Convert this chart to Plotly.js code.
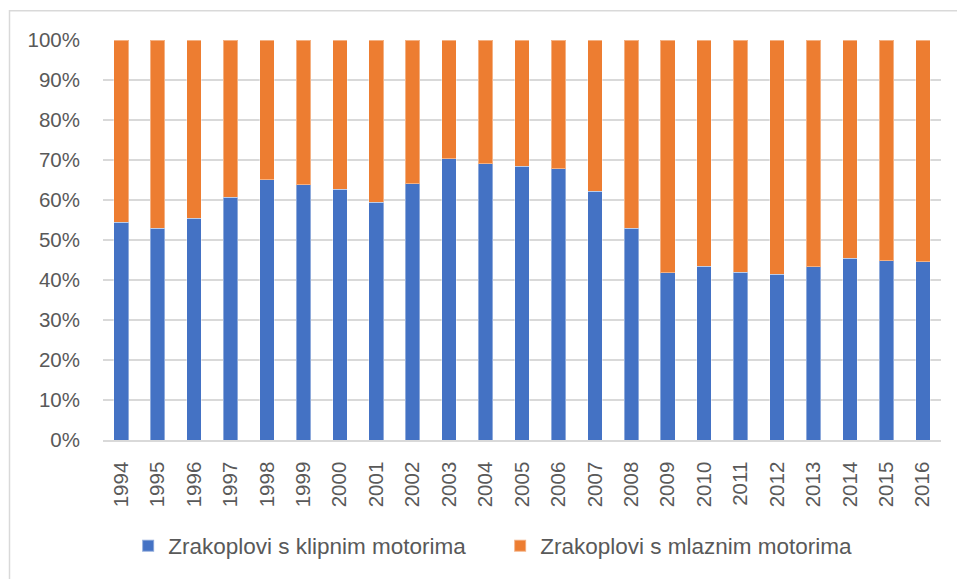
<!DOCTYPE html>
<html>
<head>
<meta charset="utf-8">
<script src="https://cdn.plot.ly/plotly-3.0.1.min.js"></script>
<style>html,body{margin:0;padding:0;background:#fff;}#chart{width:957px;height:579px;}</style>
</head>
<body>
<div id="chart"></div>
<script>
const years = ["1994","1995","1996","1997","1998","1999","2000","2001","2002","2003","2004","2005","2006","2007","2008","2009","2010","2011","2012","2013","2014","2015","2016"];
const pistonShare = [54.5,52.9,55.4,60.7,65.1,63.8,62.7,59.5,64.1,70.3,69.1,68.5,67.8,62.2,53.0,41.8,43.5,41.9,41.5,43.3,45.5,44.8,44.6];
const jetShare = pistonShare.map(v => 100 - v);
const seriesNames = ["Zrakoplovi s klipnim motorima", "Zrakoplovi s mlaznim motorima"];
const yTickVals = [0,10,20,30,40,50,60,70,80,90,100];
const yTickText = ["0%","10%","20%","30%","40%","50%","60%","70%","80%","90%","100%"];

const font = "Liberation Sans, Arial, sans-serif";
const traces = [
  {type:"bar", x: years, y: pistonShare, name: seriesNames[0], marker:{color:"#4472c4", line:{color:"rgba(255,255,255,0.4)", width:1}}},
  {type:"bar", x: years, y: jetShare, name: seriesNames[1], marker:{color:"#ed7d31", line:{color:"rgba(255,255,255,0.4)", width:1}}}
];
const layout = {
  width: 957, height: 579,
  barmode: "stack",
  bargap: 0.6,
  margin: {l:103, r:16, t:40, b:136},
  paper_bgcolor: "#fff", plot_bgcolor: "#fff",
  font: {family: font, size: 20.5, color: "#595959"},
  showlegend: true,
  legend: {orientation: "h", traceorder: "normal", x: 0.030, xanchor: "left", y: -0.265, yanchor: "middle",
           entrywidth: 327, entrywidthmode: "pixels",
           font: {family: font, size: 22.5, color: "#595959"}, itemwidth: 30, tracegroupgap: 0, itemsizing: "constant"},
  xaxis: {type: "category", tickangle: -90, showgrid: false, zeroline: false, showline: true,
          linecolor: "#d9d9d9", linewidth: 1.5, ticks: "outside", ticklen: 12, tickcolor: "rgba(0,0,0,0)",
          tickfont: {family: font, size: 20.5, color: "#595959"}},
  yaxis: {range: [0, 100], tickvals: yTickVals, ticktext: yTickText, showgrid: true, gridcolor: "#d9d9d9",
          gridwidth: 1.5, zeroline: false, showline: false, ticks: "", ticklabelstandoff: 22,
          tickfont: {family: font, size: 20.5, color: "#595959"}},
  shapes: [{type: "rect", xref: "paper", yref: "paper", x0: (9.5-103)/838, x1: (975-103)/838,
            y0: (443-600)/403, y1: (443-10.5)/403, line: {color: "#d9d9d9", width: 1.5}, fillcolor: "rgba(0,0,0,0)", layer: "below"}]
};
Plotly.newPlot("chart", traces, layout, {displayModeBar: false, staticPlot: true});
</script>
</body>
</html>
